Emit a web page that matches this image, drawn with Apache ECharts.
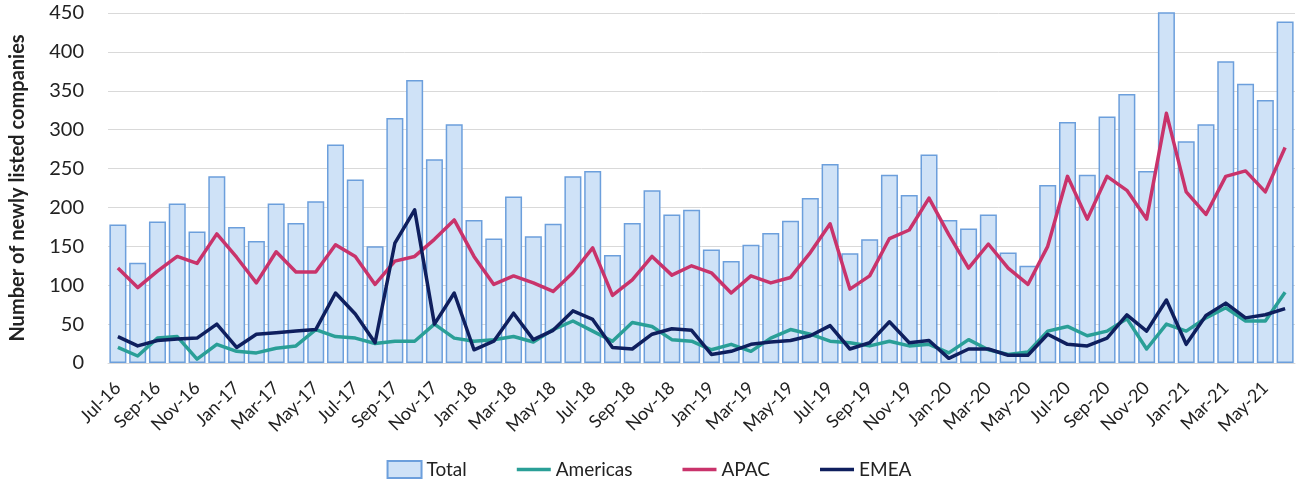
<!DOCTYPE html>
<html>
<head>
<meta charset="utf-8">
<title>Newly listed companies by region</title>
<script src="https://cdn.jsdelivr.net/npm/echarts@6/dist/echarts.min.js"></script>
<style>
  html, body { margin: 0; padding: 0; background: #ffffff; }
  #chart { width: 1298px; height: 488px; }
</style>
</head>
<body>
<div id="chart"></div>
<script>
// Monthly listings, Jul-16 to Jun-21
const months = [
  'Jul-16','Aug-16','Sep-16','Oct-16','Nov-16','Dec-16',
  'Jan-17','Feb-17','Mar-17','Apr-17','May-17','Jun-17','Jul-17','Aug-17','Sep-17','Oct-17','Nov-17','Dec-17',
  'Jan-18','Feb-18','Mar-18','Apr-18','May-18','Jun-18','Jul-18','Aug-18','Sep-18','Oct-18','Nov-18','Dec-18',
  'Jan-19','Feb-19','Mar-19','Apr-19','May-19','Jun-19','Jul-19','Aug-19','Sep-19','Oct-19','Nov-19','Dec-19',
  'Jan-20','Feb-20','Mar-20','Apr-20','May-20','Jun-20','Jul-20','Aug-20','Sep-20','Oct-20','Nov-20','Dec-20',
  'Jan-21','Feb-21','Mar-21','Apr-21','May-21','Jun-21'
];

const total = [
  178,129,182,205,169,240,175,157,205,180,
  208,281,236,150,315,364,262,307,184,160,
  214,163,179,240,247,139,180,222,191,197,
  146,131,152,167,183,212,256,141,159,242,
  216,268,184,173,191,142,125,229,310,242,
  317,346,247,470,285,307,388,359,338,439
];

const americas = [
  20,9,32,34,5,24,15,13,19,22,
  43,34,32,25,28,28,50,32,28,30,
  34,27,43,54,41,28,52,47,30,28,
  17,24,15,32,43,37,28,26,22,28,
  22,24,13,30,17,11,14,41,47,35,
  41,57,18,50,41,58,71,54,54,91
];

const apac = [
  122,97,118,137,128,166,136,103,143,117,
  117,152,137,101,131,137,159,184,137,101,
  112,103,92,116,148,87,107,137,113,125,
  116,90,112,103,110,142,179,95,112,160,
  171,212,165,122,153,122,101,150,240,185,
  240,222,185,321,220,191,240,247,220,277
];

const emea = [
  34,22,29,31,32,50,20,37,39,41,
  43,90,63,26,154,197,50,90,17,28,
  64,30,42,67,56,20,18,37,44,42,
  11,15,24,27,29,35,48,18,26,53,
  26,29,6,18,18,10,10,37,24,22,
  32,62,41,81,24,61,77,58,62,70
];

const yTicks = [0, 50, 100, 150, 200, 250, 300, 350, 400, 450];

const FONT = 'Lato, "Open Sans", sans-serif';
const TEXT = '#222222';
// flat stroke used as the legend key for the regional lines
const LINE_KEY = 'path://M0,0 L34,0 L34,3.5 L0,3.5 Z';

const chart = echarts.init(document.getElementById('chart'), null, { renderer: 'canvas' });

function lineSeries(name, data, color) {
  return {
    name: name,
    type: 'line',
    data: data,
    symbol: 'none',
    smooth: false,
    lineStyle: { color: color, width: 3.5, join: 'round' },
    itemStyle: { color: color },
    z: 3
  };
}

chart.setOption({
  animation: false,
  backgroundColor: '#ffffff',
  textStyle: { fontFamily: FONT, color: TEXT },
  grid: { left: 106, right: 3, top: 13, bottom: 125, containLabel: false },
  legend: {
    bottom: 4,
    left: 'center',
    itemGap: 50,
    itemWidth: 34,
    itemHeight: 17,
    symbolKeepAspect: true,
    textStyle: { fontFamily: FONT, fontSize: 19, color: TEXT },
    data: [
      { name: 'Total', icon: 'rect' },
      { name: 'Americas', icon: LINE_KEY },
      { name: 'APAC', icon: LINE_KEY },
      { name: 'EMEA', icon: LINE_KEY }
    ]
  },
  xAxis: {
    type: 'category',
    data: months,
    boundaryGap: true,
    axisLine: { show: true, lineStyle: { color: '#d9d9d9', width: 1 } },
    axisTick: { show: false },
    axisLabel: {
      interval: 1,
      rotate: 45,
      margin: 22,
      fontFamily: FONT,
      fontSize: 18,
      color: TEXT
    },
    splitLine: { show: false }
  },
  yAxis: {
    type: 'value',
    min: yTicks[0],
    max: yTicks[yTicks.length - 1],
    interval: yTicks[1] - yTicks[0],
    name: 'Number of newly listed companies',
    nameLocation: 'middle',
    nameRotate: 90,
    nameGap: 80,
    nameTextStyle: { fontFamily: FONT, fontSize: 20, fontWeight: 'bold', color: TEXT },
    axisLine: { show: false },
    axisTick: { show: false },
    axisLabel: { fontFamily: FONT, fontSize: 20, color: TEXT, margin: 24 },
    splitLine: { show: true, lineStyle: { color: '#d9d9d9', width: 1 } }
  },
  series: [
    {
      name: 'Total',
      type: 'bar',
      data: total,
      barCategoryGap: '14%',
      clip: true,
      itemStyle: { color: '#cfe2f7', borderColor: '#6c9fdc', borderWidth: 1.5 },
      z: 2
    },
    lineSeries('Americas', americas, '#2a9f97'),
    lineSeries('APAC', apac, '#c9336b'),
    lineSeries('EMEA', emea, '#0f1f5e')
  ]
});
</script>
</body>
</html>
